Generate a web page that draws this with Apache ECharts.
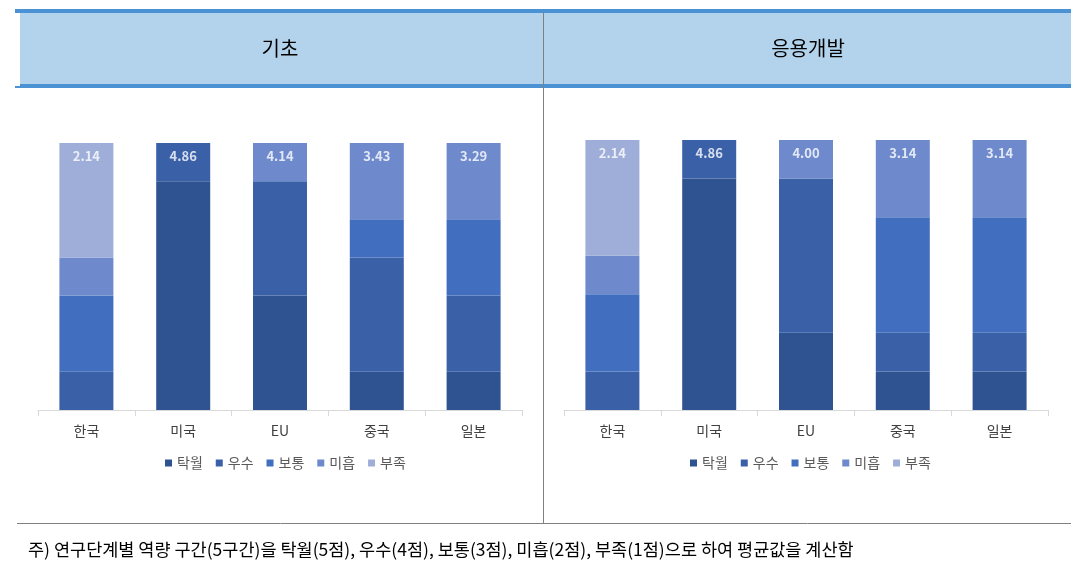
<!DOCTYPE html>
<html>
<head>
<meta charset="utf-8">
<style>
  html, body { margin: 0; padding: 0; background: #fff; }
  #chart { width: 1076px; height: 579px; }
</style>
<script src="https://cdn.jsdelivr.net/npm/echarts@6/dist/echarts.min.js"></script>
</head>
<body>
<div id="chart"></div>
<script>
// 응답자 7명 기준, 수준별 응답 수
const countries = ['한국', '미국', 'EU', '중국', '일본']
const levels = ['탁월', '우수', '보통', '미흡', '부족']
const levelColors = ['#2f5390', '#3a60a8', '#416ebe', '#6e8acc', '#9eaed9']

const basicCounts = [
  [0, 6, 3, 1, 1], // 탁월
  [1, 1, 3, 3, 2], // 우수
  [2, 0, 0, 1, 2], // 보통
  [1, 0, 1, 2, 2], // 미흡
  [3, 0, 0, 0, 0], // 부족
]
const appliedCounts = [
  [0, 6, 2, 1, 1],
  [1, 1, 4, 1, 1],
  [2, 0, 0, 3, 3],
  [1, 0, 1, 2, 2],
  [3, 0, 0, 0, 0],
]
const basicAvg = ['2.14', '4.86', '4.14', '3.43', '3.29']
const appliedAvg = ['2.14', '4.86', '4.00', '3.14', '3.14']
const respondents = 7

const panelTitles = ['기초', '응용개발']
const note = '주) 연구단계별 역량 구간(5구간)을 탁월(5점), 우수(4점), 보통(3점), 미흡(2점), 부족(1점)으로 하여 평균값을 계산함'

const FONT = '"Noto Sans CJK KR", "Noto Sans", sans-serif'

const chart = echarts.init(document.getElementById('chart'))

const makeStack = (counts, idx) =>
  counts.map((row, i) => ({
    name: levels[i],
    type: 'bar',
    stack: 'total' + idx,
    xAxisIndex: idx,
    yAxisIndex: idx,
    barWidth: 54,
    itemStyle: { color: levelColors[i] },
    data: row,
  }))

const makeAvgLabels = (avg, idx) => ({
  type: 'scatter',
  xAxisIndex: idx,
  yAxisIndex: idx,
  symbolSize: 1,
  itemStyle: { color: 'rgba(0,0,0,0)' },
  silent: true,
  z: 10,
  label: {
    show: true,
    position: 'bottom',
    distance: 6,
    color: '#fff',
    fontWeight: 'bold',
    fontSize: 13,
    fontFamily: FONT,
    formatter: (p) => avg[p.dataIndex],
  },
  data: countries.map((c) => [c, respondents]),
})

const xAxisBase = {
  type: 'category',
  data: countries,
  axisLine: { lineStyle: { color: '#d9d9d9' } },
  axisTick: { show: true, length: 6, lineStyle: { color: '#d9d9d9' } },
  axisLabel: { color: '#404040', fontSize: 14, margin: 14, fontFamily: FONT },
}

const yAxisBase = { type: 'value', min: 0, max: respondents, show: false }

const legendBase = {
  data: levels,
  icon: 'rect',
  itemWidth: 7,
  itemHeight: 7,
  itemGap: 13,
  top: 451,
  textStyle: { color: '#595959', fontSize: 14, fontFamily: FONT },
}

const option = {
  animation: false,
  textStyle: { fontFamily: FONT },
  grid: [
    { left: 38, width: 484, top: 143, height: 267 },
    { left: 564, width: 484, top: 140, height: 270 },
  ],
  xAxis: [
    { ...xAxisBase, gridIndex: 0 },
    { ...xAxisBase, gridIndex: 1 },
  ],
  yAxis: [
    { ...yAxisBase, gridIndex: 0 },
    { ...yAxisBase, gridIndex: 1 },
  ],
  legend: [
    { ...legendBase, left: 160 },
    { ...legendBase, left: 685 },
  ],
  graphic: [
    // 머리 띠
    { type: 'rect', shape: { x: 20, y: 13, width: 1051, height: 71 }, style: { fill: '#b3d3ec' }, silent: true },
    { type: 'rect', shape: { x: 15, y: 9, width: 1056, height: 4 }, style: { fill: '#4a92d3' }, silent: true },
    { type: 'rect', shape: { x: 20, y: 84, width: 1051, height: 4 }, style: { fill: '#4a92d3' }, silent: true },
    { type: 'rect', shape: { x: 15, y: 86, width: 5, height: 2 }, style: { fill: '#4a92d3' }, silent: true },
    { type: 'line', shape: { x1: 543.5, y1: 13, x2: 543.5, y2: 524 }, style: { stroke: '#808080', lineWidth: 1 }, silent: true },
    { type: 'line', shape: { x1: 17, y1: 523.5, x2: 1071, y2: 523.5 }, style: { stroke: '#808080', lineWidth: 1 }, silent: true },
    {
      type: 'text', x: 280, y: 48,
      style: { text: panelTitles[0], fill: '#000', fontSize: 20, fontFamily: FONT, align: 'center', verticalAlign: 'middle' },
    },
    {
      type: 'text', x: 808, y: 48,
      style: { text: panelTitles[1], fill: '#000', fontSize: 20, fontFamily: FONT, align: 'center', verticalAlign: 'middle' },
    },
    {
      type: 'text', x: 28, y: 549,
      style: { text: note, fill: '#000', fontSize: 17.5, fontFamily: FONT, verticalAlign: 'middle' },
    },
  ],
  series: [
    ...makeStack(basicCounts, 0),
    ...makeStack(appliedCounts, 1),
    makeAvgLabels(basicAvg, 0),
    makeAvgLabels(appliedAvg, 1),
  ],
}

chart.setOption(option)

window.addEventListener('resize', () => chart.resize())
</script>
</body>
</html>
